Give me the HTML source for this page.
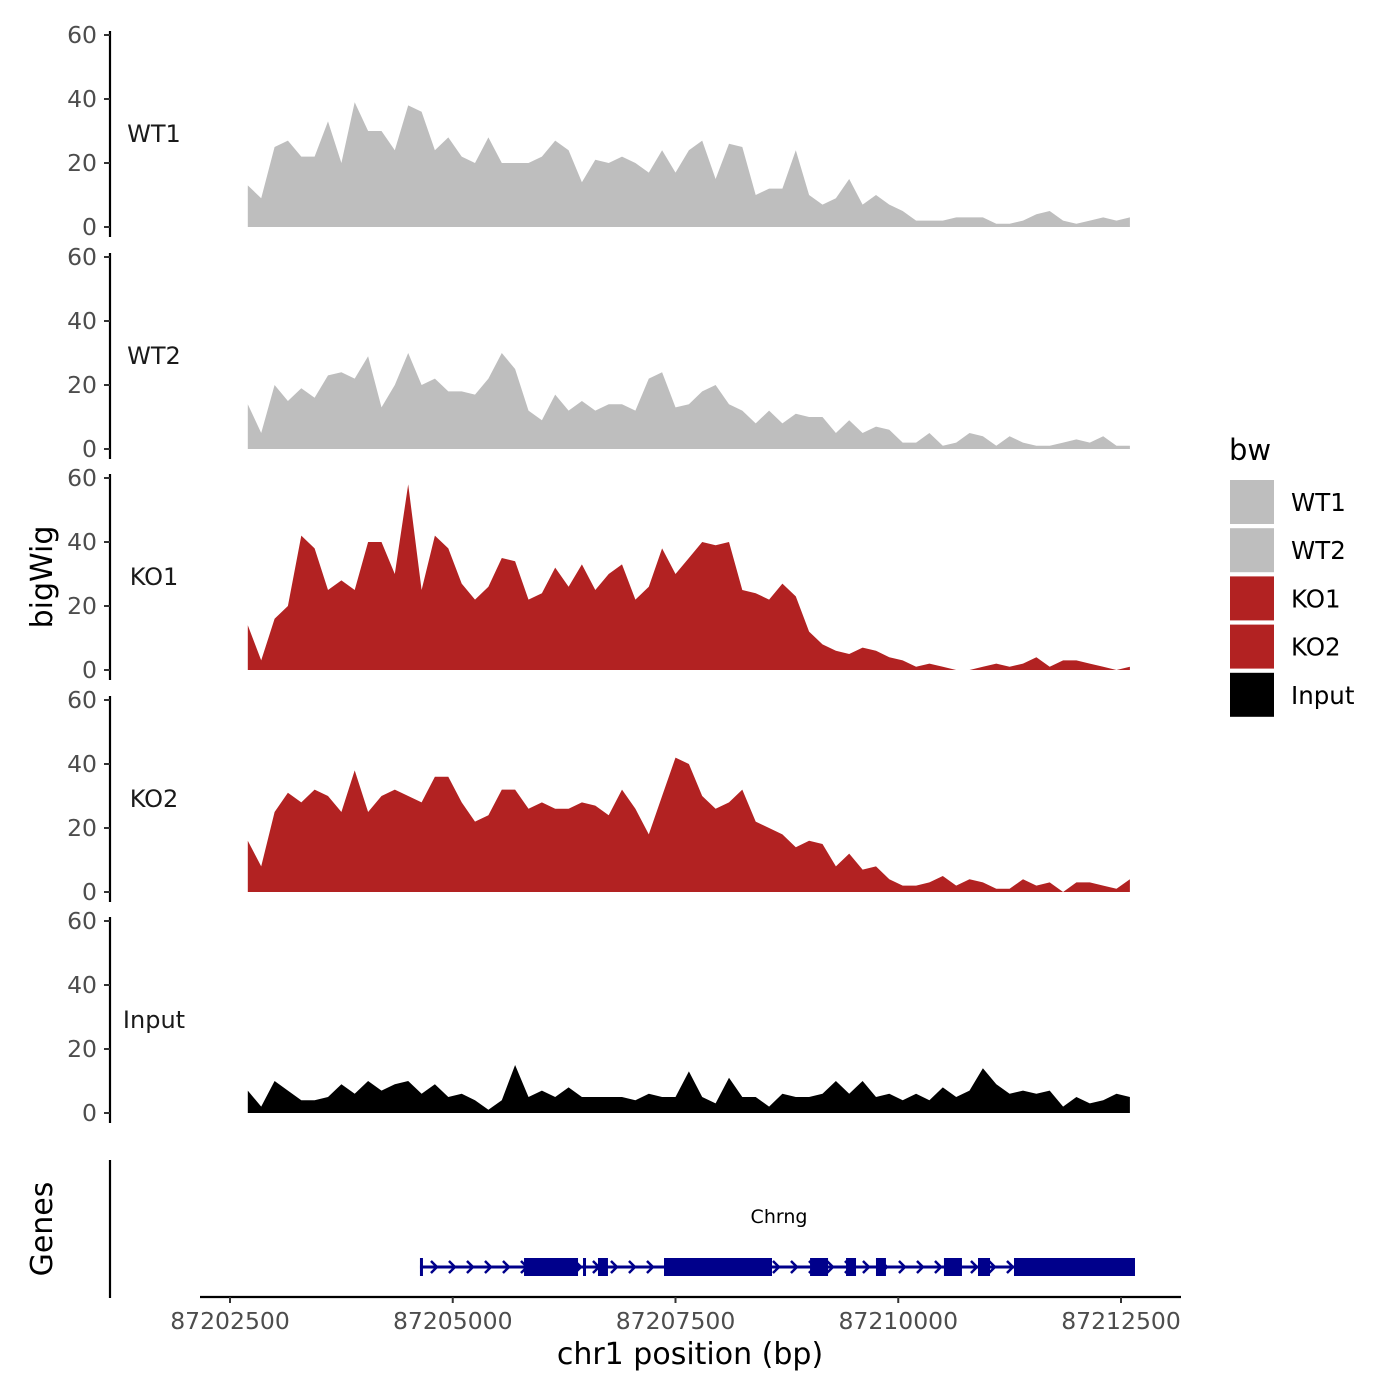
<!DOCTYPE html>
<html><head><meta charset="utf-8"><style>
html,body{margin:0;padding:0;background:#fff;}
svg{display:block;font-family:"DejaVu Sans","Liberation Sans",sans-serif;}
</style></head><body>
<svg id="chart" width="1400" height="1400" viewBox="0 0 1400 1400" xmlns="http://www.w3.org/2000/svg"></svg>
<script>
const startBp = 87202700;
const stepBp = 150;
const trackNames = ["WT1","WT2","KO1","KO2","Input"];
const trackColors = ["#bebebe","#bebebe","#b22222","#b22222","#000000"];
const wt1 = [13,9,25,27,22,22,33,20,39,30,30,24,38,36,24,28,22,20,28,20,20,20,22,27,24,14,21,20,22,20,17,24,17,24,27,15,26,25,10,12,12,24,10,7,9,15,7,10,7,5,2,2,2,3,3,3,1,1,2,4,5,2,1,2,3,2,3];
const wt2 = [14,5,20,15,19,16,23,24,22,29,13,20,30,20,22,18,18,17,22,30,25,12,9,17,12,15,12,14,14,12,22,24,13,14,18,20,14,12,8,12,8,11,10,10,5,9,5,7,6,2,2,5,1,2,5,4,1,4,2,1,1,2,3,2,4,1,1];
const ko1 = [14,3,16,20,42,38,25,28,25,40,40,30,58,25,42,38,27,22,26,35,34,22,24,32,26,33,25,30,33,22,26,38,30,35,40,39,40,25,24,22,27,23,12,8,6,5,7,6,4,3,1,2,1,0,0,1,2,1,2,4,1,3,3,2,1,0,1];
const ko2 = [16,8,25,31,28,32,30,25,38,25,30,32,30,28,36,36,28,22,24,32,32,26,28,26,26,28,27,24,32,26,18,30,42,40,30,26,28,32,22,20,18,14,16,15,8,12,7,8,4,2,2,3,5,2,4,3,1,1,4,2,3,0,3,3,2,1,4];
const inputSig = [7,2,10,7,4,4,5,9,6,10,7,9,10,6,9,5,6,4,1,4,15,5,7,5,8,5,5,5,5,4,6,5,5,13,5,3,11,5,5,2,6,5,5,6,10,6,10,5,6,4,6,4,8,5,7,14,9,6,7,6,7,2,5,3,4,6,5];
const yTicks = [0,20,40,60];
const xTicks = [87202500,87205000,87207500,87210000,87212500];
const exonStarts = [87204632,87205800,87206462,87206630,87207371,87209010,87209414,87209750,87210513,87210895,87211299];
const exonEnds   = [87204660,87206406,87206495,87206742,87208583,87209212,87209526,87209862,87210715,87211030,87212657];
const geneStart = 87204632, geneEnd = 87212657;

const NS="http://www.w3.org/2000/svg";
const svg=document.getElementById('chart');
function mk(tag,attrs,parent){const e=document.createElementNS(NS,tag);for(const k in attrs)e.setAttribute(k,attrs[k]);(parent||svg).appendChild(e);return e;}
const xScale = bp => 230 + (bp-87202500)*0.0891;
const zeros=[227,449,670,892,1113];
const series=[wt1,wt2,ko1,ko2,inputSig];

trackNames.forEach((nm,t)=>{
  const y0=zeros[t];
  const yScale=v=>y0 - v*3.2;
  const g=mk('g',{});
  
  
  const ax=mk('line',{x1:110,x2:110,y1:y0-196,y2:y0+10,stroke:'#000','stroke-width':2.2},g);
  
  
  yTicks.forEach(v=>{
    const y=yScale(v);
    const tk=mk('line',{x1:104,x2:110,y1:y,y2:y,stroke:'#333','stroke-width':2},g);
    
    
    const tl=mk('text',{x:97,y:y+8,'text-anchor':'end','font-size':23.5,fill:'#4d4d4d'},g);
    tl.textContent=v;
    
    
  });
  const lab=mk('text',{x:154,y:y0-85,'text-anchor':'middle','font-size':24,fill:'#1a1a1a'},g);
  lab.textContent=nm;
  
  
  const d=series[t];
  let p='M'+xScale(startBp).toFixed(1)+','+y0;
  d.forEach((v,i)=>{p+=' L'+xScale(startBp+i*stepBp).toFixed(1)+','+yScale(v).toFixed(1);});
  p+=' L'+xScale(startBp+(d.length-1)*stepBp).toFixed(1)+','+y0+' Z';
  const a=mk('path',{d:p,fill:trackColors[t]},g);
  
  
});

const yt=mk('text',{x:0,y:0,transform:'translate(52,577) rotate(-90)','text-anchor':'middle','font-size':30,fill:'#000'});
yt.textContent='bigWig';



const gl=mk('line',{x1:110,x2:110,y1:1160,y2:1298,stroke:'#000','stroke-width':2.2});


const gt=mk('text',{x:0,y:0,transform:'translate(52,1229) rotate(-90)','text-anchor':'middle','font-size':30,fill:'#000'});
gt.textContent='Genes';


const xa=mk('line',{x1:200,x2:1181,y1:1297,y2:1297,stroke:'#000','stroke-width':2.2});


xTicks.forEach(b=>{
  const x=xScale(b);
  const t=mk('line',{x1:x,x2:x,y1:1297,y2:1303,stroke:'#333','stroke-width':2});
  
  
  const l=mk('text',{x:x,y:1329,'text-anchor':'middle','font-size':23.5,fill:'#4d4d4d'});
  l.textContent=b;
  
  
});
const xt=mk('text',{x:690,y:1364,'text-anchor':'middle','font-size':30,fill:'#000'});
xt.textContent='chr1 position (bp)';



const gg=mk('g',{});


const gline=mk('line',{x1:xScale(geneStart),x2:xScale(geneEnd),y1:1267,y2:1267,stroke:'#00008b','stroke-width':3},gg);


for(let x=xScale(geneStart)+14;x<xScale(geneEnd);x+=18){
  const ar=mk('path',{d:`M${x-3},1261 L${x+3},1267 L${x-3},1273`,stroke:'#00008b','stroke-width':2.5,fill:'none'},gg);
  
  
}
exonStarts.forEach((s,i)=>{
  const x1=xScale(s),x2=xScale(exonEnds[i]);
  const r=mk('rect',{x:x1,y:1258,width:Math.max(3,x2-x1),height:18,fill:'#00008b'},gg);
  
  
});
const gn=mk('text',{x:779,y:1223,'text-anchor':'middle','font-size':19,fill:'#000'},gg);
gn.textContent='Chrng';



const lg=mk('g',{});


const lt=mk('text',{x:1229,y:460,'font-size':29,fill:'#000'},lg);
lt.textContent='bw';


trackNames.forEach((nm,i)=>{
  const y=480+i*48.2;
  const r=mk('rect',{x:1230,y:y,width:44,height:44,fill:trackColors[i]},lg);
  
  
  const t=mk('text',{x:1291,y:y+31,'font-size':24.5,fill:'#000'},lg);
  t.textContent=nm;
  
  
});
</script>
</body></html>
